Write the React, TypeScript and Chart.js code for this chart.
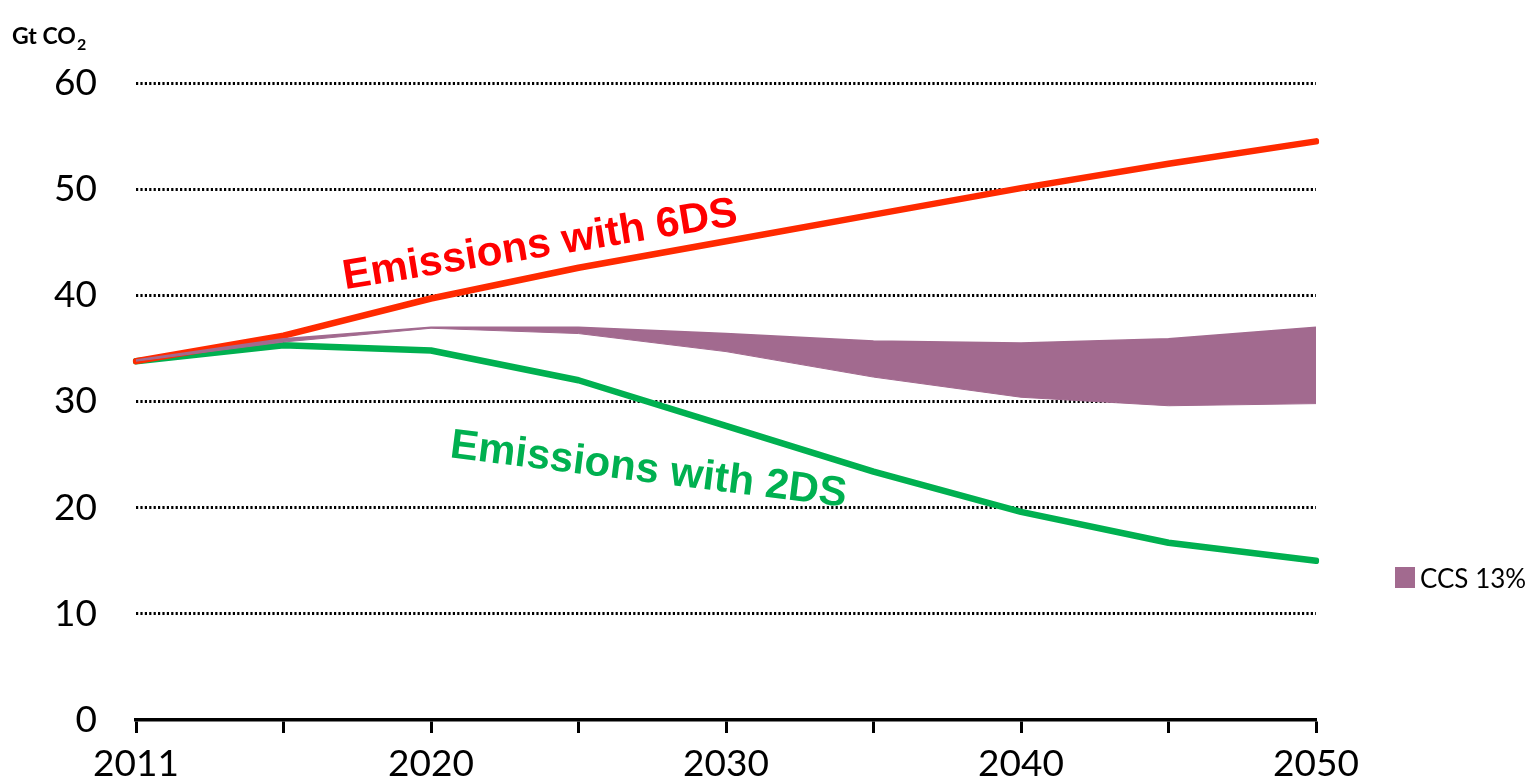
import React, { useEffect, useRef } from "react";
import { Chart, registerables } from "chart.js";

Chart.register(...registerables);

const years = ["2011", "2015", "2020", "2025", "2030", "2035", "2040", "2045", "2050"];
const shownYears = ["2011", "2020", "2030", "2040", "2050"];
const emissions6DS = [33.8, 36.2, 39.7, 42.6, 45.1, 47.6, 50.1, 52.4, 54.5];
const emissions2DS = [33.8, 35.3, 34.8, 32.0, 27.7, 23.4, 19.6, 16.7, 15.0];
const ccsUpper = [33.9, 35.9, 37.0, 37.0, 36.4, 35.7, 35.5, 35.9, 37.0];
const ccsLower = [33.8, 35.6, 36.9, 36.4, 34.7, 32.3, 30.4, 29.6, 29.8];
const yTicks = [0, 10, 20, 30, 40, 50, 60];

const PURPLE = "#A26A8F";
const RED_LINE = "#FF2A00";
const RED_TEXT = "#FF0000";
const GREEN = "#00B050";

const annotationPlugin = {
  id: "annotations",
  afterDatasetsDraw(chart: any) {
    const ctx = chart.ctx;
    ctx.save();
    const drawRot = (text: string, x: number, y: number, deg: number, color: string) => {
      ctx.save();
      ctx.translate(x, y);
      ctx.rotate((deg * Math.PI) / 180);
      ctx.font = "bold 42px 'Liberation Sans', Arial, sans-serif";
      ctx.fillStyle = color;
      ctx.textAlign = "center";
      ctx.textBaseline = "alphabetic";
      ctx.fillText(text, 0, 0);
      ctx.restore();
    };
    drawRot("Emissions with 6DS", 542, 257, -9.3, RED_TEXT);
    drawRot("Emissions with 2DS", 647, 482, 7.1, GREEN);

    // Unit label
    ctx.fillStyle = "#000";
    ctx.textAlign = "left";
    ctx.textBaseline = "alphabetic";
    ctx.font = "bold 23px Lato, sans-serif";
    ctx.fillText("Gt CO", 12, 44);
    const w = ctx.measureText("Gt CO").width;
    ctx.font = "bold 16px Lato, sans-serif";
    ctx.fillText("2", 12 + w + 1, 50);

    // Legend
    const ds = chart.data.datasets[0];
    ctx.fillStyle = ds.backgroundColor;
    ctx.fillRect(1395, 567, 20, 21);
    ctx.fillStyle = "#000";
    ctx.font = "26px Lato, sans-serif";
    ctx.fillText(ds.label, 1420, 588);
    ctx.restore();
  },
};

export default function App() {
  const ref = useRef<HTMLCanvasElement | null>(null);

  useEffect(() => {
    if (!ref.current) return;
    const chart = new Chart(ref.current, {
      type: "line",
      data: {
        labels: years,
        datasets: [
          {
            label: "CCS 13%",
            data: ccsUpper,
            fill: 1,
            backgroundColor: PURPLE,
            borderColor: PURPLE,
            borderWidth: 1.5,
            pointRadius: 0,
            tension: 0,
          },
          {
            label: "ccs-base",
            data: ccsLower,
            fill: false,
            borderColor: PURPLE,
            borderWidth: 1,
            pointRadius: 0,
            tension: 0,
          },
          {
            label: "Emissions with 6DS",
            data: emissions6DS,
            fill: false,
            borderColor: RED_LINE,
            borderWidth: 6.5,
            borderCapStyle: "round",
            borderJoinStyle: "round",
            pointRadius: 0,
            tension: 0,
          },
          {
            label: "Emissions with 2DS",
            data: emissions2DS,
            fill: false,
            borderColor: GREEN,
            borderWidth: 6.5,
            borderCapStyle: "round",
            borderJoinStyle: "round",
            pointRadius: 0,
            tension: 0,
          },
        ],
      },
      options: {
        responsive: false,
        animation: false,
        devicePixelRatio: 1,
        layout: { padding: { top: 83, right: 209, left: 0, bottom: 0 } },
        plugins: {
          legend: { display: false },
          tooltip: { enabled: false },
          title: { display: false },
        },
        scales: {
          x: {
            type: "category",
            offset: false,
            afterFit: (s: any) => {
              s.height = 63;
            },
            grid: {
              display: true,
              drawOnChartArea: false,
              drawTicks: true,
              tickLength: 13,
              tickWidth: 3,
              tickColor: "#000",
              color: "#000",
            },
            border: { display: true, color: "#000", width: 3.5 },
            ticks: {
              autoSkip: false,
              maxRotation: 0,
              minRotation: 0,
              padding: 9,
              color: "#000",
              font: { family: "Lato", size: 37 },
              callback: (_v: any, i: number) => (shownYears.includes(years[i]) ? years[i] : ""),
            },
          },
          y: {
            min: 0,
            max: 60,
            afterFit: (s: any) => {
              s.width = 136;
            },
            afterBuildTicks: (s: any) => {
              s.ticks = yTicks.map((v) => ({ value: v }));
            },
            grid: {
              drawTicks: false,
              lineWidth: 3,
              color: (c: any) => (c.tick && c.tick.value === 0 ? "rgba(0,0,0,0)" : "#000"),
            },
            border: { display: false, dash: [2.2, 2.2] },
            ticks: {
              padding: 39,
              color: "#000",
              font: { family: "Lato", size: 37 },
            },
          },
        },
      },
      plugins: [annotationPlugin],
    } as any);
    return () => chart.destroy();
  }, []);

  return (
    <div style={{ position: "absolute", left: 0, top: 0, width: 1525, height: 783 }}>
      <canvas ref={ref} width={1525} height={783} style={{ display: "block" }} />
    </div>
  );
}
